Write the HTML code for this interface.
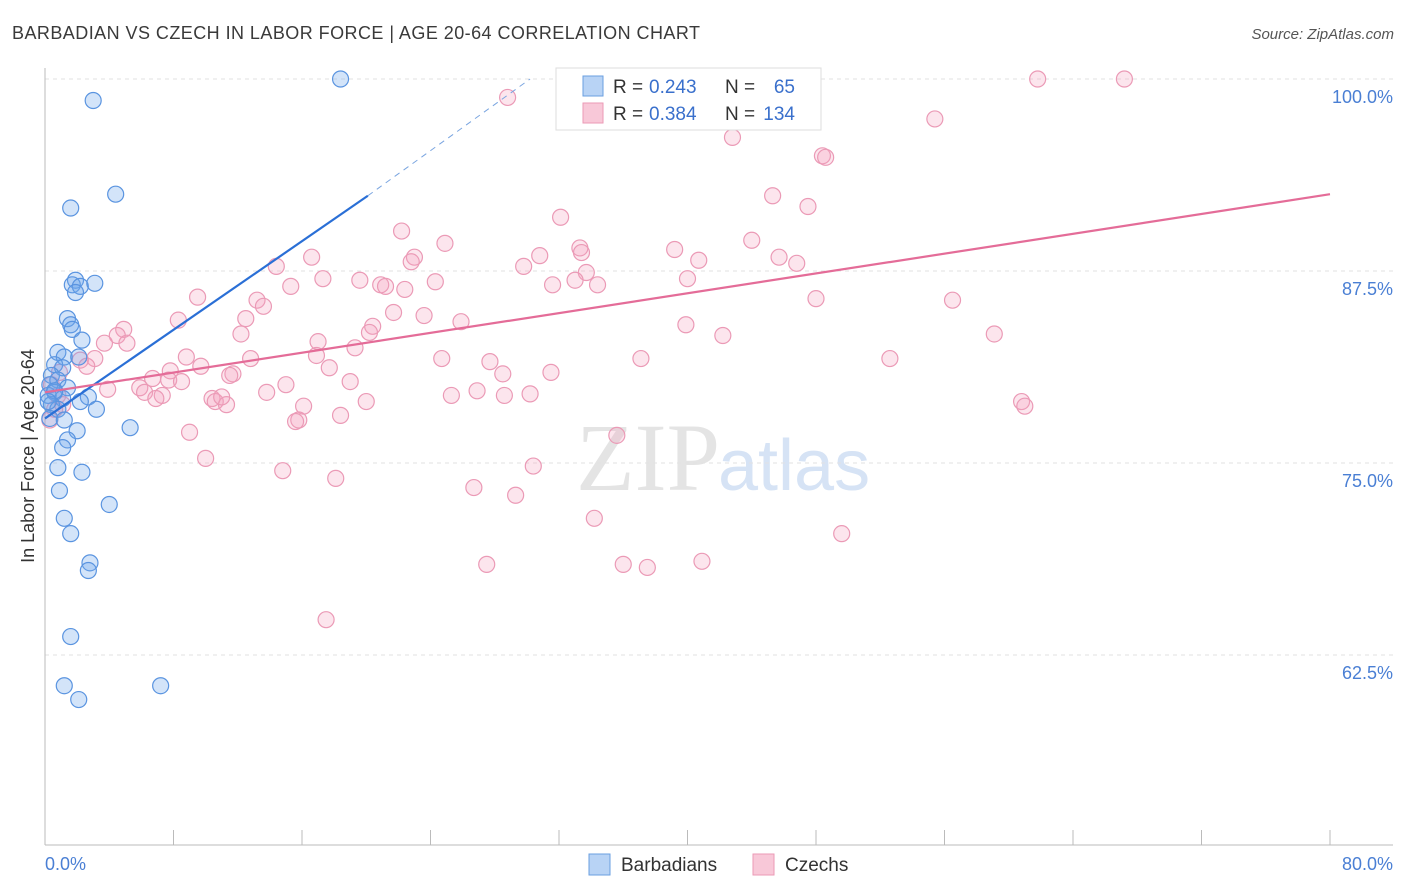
<!DOCTYPE html>
<html><head><meta charset="utf-8"><style>
body{margin:0;background:#fff;font-family:"Liberation Sans",sans-serif}
svg{display:block}
</style></head><body>
<svg id="c" width="1406" height="892" font-family="Liberation Sans, sans-serif">
<text x="12" y="39" font-size="18" fill="#3a3a3a" textLength="688">BARBADIAN VS CZECH IN LABOR FORCE | AGE 20-64 CORRELATION CHART</text>
<text x="1394" y="39" font-size="15" fill="#555" font-style="italic" text-anchor="end">Source: ZipAtlas.com</text>
<text x="720" y="490" font-size="96" fill="#e4e4e4" text-anchor="end" font-family="Liberation Serif, serif">ZIP</text>
<text x="718" y="490" font-size="72" fill="#d6e3f5">atlas</text>
<text transform="translate(34,456) rotate(-90)" font-size="18" fill="#333" text-anchor="middle">In Labor Force | Age 20-64</text>
<g id="grid"></g><g id="pts"></g><g id="trend"></g>
<g>
<rect x="556" y="68" width="265" height="62" fill="#fff" stroke="#ddd"/>
<rect x="583" y="76" width="20" height="20" fill="#b8d3f5" stroke="#6a9fe0"/>
<rect x="583" y="103" width="20" height="20" fill="#f8c8d8" stroke="#eb9ab6"/>
<text x="613" y="93" font-size="19" fill="#333">R =</text>
<text x="649" y="93" font-size="19" fill="#3a70cc">0.243</text>
<text x="725" y="93" font-size="19" fill="#333">N =</text>
<text x="795" y="93" font-size="19" fill="#3a70cc" text-anchor="end">65</text>
<text x="613" y="120" font-size="19" fill="#333">R =</text>
<text x="649" y="120" font-size="19" fill="#3a70cc">0.384</text>
<text x="725" y="120" font-size="19" fill="#333">N =</text>
<text x="795" y="120" font-size="19" fill="#3a70cc" text-anchor="end">134</text>
</g>
<g>
<rect x="589" y="854" width="21" height="21" fill="#b8d3f5" stroke="#6a9fe0"/>
<text x="621" y="871" font-size="19" fill="#333">Barbadians</text>
<rect x="753" y="854" width="21" height="21" fill="#f8c8d8" stroke="#eb9ab6"/>
<text x="785" y="871" font-size="19" fill="#333">Czechs</text>
</g>
</svg>
<script>
const yTicks=[100,87.5,75,62.5];
const yTickLabels=["100.0%","87.5%","75.0%","62.5%"];
const xTickVals=[0,8,16,24,32,40,48,56,64,72,80];
const xTickLabels=["0.0%","80.0%"];
const blueX=[18.4,3.0,4.4,1.6,1.9,1.7,2.2,3.1,1.9,1.4,1.6,1.7,2.3,0.8,1.2,2.1,0.6,1.1,0.4,0.8,0.3,1.4,0.6,0.2,1.1,2.7,2.2,0.4,0.8,3.2,0.3,1.2,5.3,2.0,1.4,1.1,0.8,2.3,0.9,4.0,1.2,1.6,2.8,2.7,1.6,1.2,7.2,2.1,0.6,0.2];
const blueY=[100,98.6,92.5,91.6,86.9,86.6,86.5,86.7,86.1,84.4,84.0,83.7,83.0,82.2,81.9,81.9,81.4,81.2,80.7,80.4,80.1,79.9,79.6,79.4,79.2,79.3,79.0,78.8,78.5,78.5,77.9,77.8,77.3,77.1,76.5,76.0,74.7,74.4,73.2,72.3,71.4,70.4,68.5,68.0,63.7,60.5,60.5,59.6,79.7,79.0];
const pinkX=[41.5,61.8,67.2,28.8,55.4,45.1,42.8,48.4,48.6,45.3,47.5,32.1,22.2,39.2,33.3,44.0,24.9,30.8,23.0,22.8,33.4,40.7,45.7,46.8,29.8,14.4,16.6,33.7,33.0,40.0,20.9,21.2,19.6,17.3,15.3,22.4,24.3,31.6,34.4,13.2,9.5,13.6,21.7,23.6,25.9,12.5,8.3,48.0,56.5,39.9,42.2,59.1,4.9,4.5,5.1,3.7,12.2,20.4,17.0,20.2,19.3,16.9,24.7,27.7,37.1,52.6,8.8,12.8,3.1,2.2,2.6,9.7,7.8,17.7,28.5,31.5,11.7,11.5,6.7,15.0,7.7,8.5,19.0,5.9,3.9,6.2,7.3,6.9,10.4,10.6,11.3,11.0,13.8,25.3,26.9,30.2,28.6,20.0,16.1,15.8,15.6,18.4,60.8,61.0,9.0,35.6,10.0,14.8,30.4,18.1,26.7,29.3,34.2,49.6,27.5,36.0,37.5,40.9,17.5,0.8,0.6,1.1,0.3,0.4,0.9];
const pinkY=[99.9,100,100,98.8,97.4,97.8,96.2,95.0,94.9,92.4,91.7,91.0,90.1,88.9,89.0,89.5,89.3,88.5,88.4,88.1,88.7,88.2,88.4,88.0,87.8,87.8,88.4,87.4,86.9,87.0,86.6,86.5,86.9,87.0,86.5,86.3,86.8,86.6,86.6,85.6,85.8,85.2,84.8,84.6,84.2,84.4,84.3,85.7,85.6,84.0,83.3,83.4,83.7,83.3,82.8,82.8,83.4,83.9,82.9,83.5,82.5,82.0,81.8,81.6,81.8,81.8,81.9,81.8,81.8,81.7,81.3,81.3,81.0,81.2,80.8,80.9,80.8,80.7,80.5,80.1,80.4,80.3,80.3,79.9,79.8,79.6,79.4,79.2,79.2,79.0,78.8,79.3,79.6,79.4,79.7,79.5,79.4,79.0,78.7,77.8,77.7,78.1,79.0,78.7,77.0,76.8,75.3,74.5,74.8,74.0,73.4,72.9,71.4,70.4,68.4,68.4,68.2,68.6,64.8,79.4,78.5,78.8,77.8,80.1,80.9];
const blueTrend=[[0,77.9],[20.1,92.4]];
const blueDash=[[20.1,92.4],[30.2,100]];
const pinkTrend=[[0,79.6],[80,92.5]];
const NS="http://www.w3.org/2000/svg";
const xs=v=>45+v*16.0625, ys=v=>79+(100-v)*15.36;
function mk(t,a,p){const e=document.createElementNS(NS,t);for(const k in a)e.setAttribute(k,a[k]);document.getElementById(p).appendChild(e);return e;}
yTicks.forEach((v,i)=>{
 const l=mk('line',{x1:45,x2:1393,y1:ys(v),y2:ys(v),stroke:'#e2e2e2','stroke-dasharray':'4,4'},'grid');
 
 
 const t=mk('text',{x:1393,y:ys(v)+24,'font-size':18,fill:'#4a7fd4','text-anchor':'end'},'grid');
 t.textContent=yTickLabels[i];
 
 
});
const ax=mk('line',{x1:45,x2:45,y1:68,y2:845,stroke:'#bbb'},'grid');


const bx=mk('line',{x1:45,x2:1393,y1:845,y2:845,stroke:'#bbb'},'grid');


xTickVals.forEach(v=>{const l=mk('line',{x1:xs(v),x2:xs(v),y1:830,y2:845,stroke:'#bbb'},'grid');
 
 });
[[0,'start'],[80,'end']].forEach((a,i)=>{const t=mk('text',{x:i?1393:45,y:870,'font-size':18,fill:'#4a7fd4','text-anchor':a[1]},'grid');t.textContent=xTickLabels[i];
 
 });
pinkX.forEach((x,i)=>{const c=mk('circle',{cx:xs(x),cy:ys(pinkY[i]),r:8,fill:'rgba(243,160,190,0.28)',stroke:'#eb9ab6','stroke-width':1.2},'pts');
 
 });
blueX.forEach((x,i)=>{const c=mk('circle',{cx:xs(x),cy:ys(blueY[i]),r:8,fill:'rgba(110,165,235,0.3)',stroke:'#5a94e0','stroke-width':1.2},'pts');
 
 });
const l1=mk('line',{x1:xs(blueTrend[0][0]),y1:ys(blueTrend[0][1]),x2:xs(blueTrend[1][0]),y2:ys(blueTrend[1][1]),stroke:'#2a6fd6','stroke-width':2.2},'trend');


const l2=mk('line',{x1:xs(blueDash[0][0]),y1:ys(blueDash[0][1]),x2:xs(blueDash[1][0]),y2:ys(blueDash[1][1]),stroke:'#7aa5e0','stroke-width':1,'stroke-dasharray':'6,5'},'trend');


const l3=mk('line',{x1:xs(pinkTrend[0][0]),y1:ys(pinkTrend[0][1]),x2:xs(pinkTrend[1][0]),y2:ys(pinkTrend[1][1]),stroke:'#e46c98','stroke-width':2.2},'trend');


</script>
</body></html>
